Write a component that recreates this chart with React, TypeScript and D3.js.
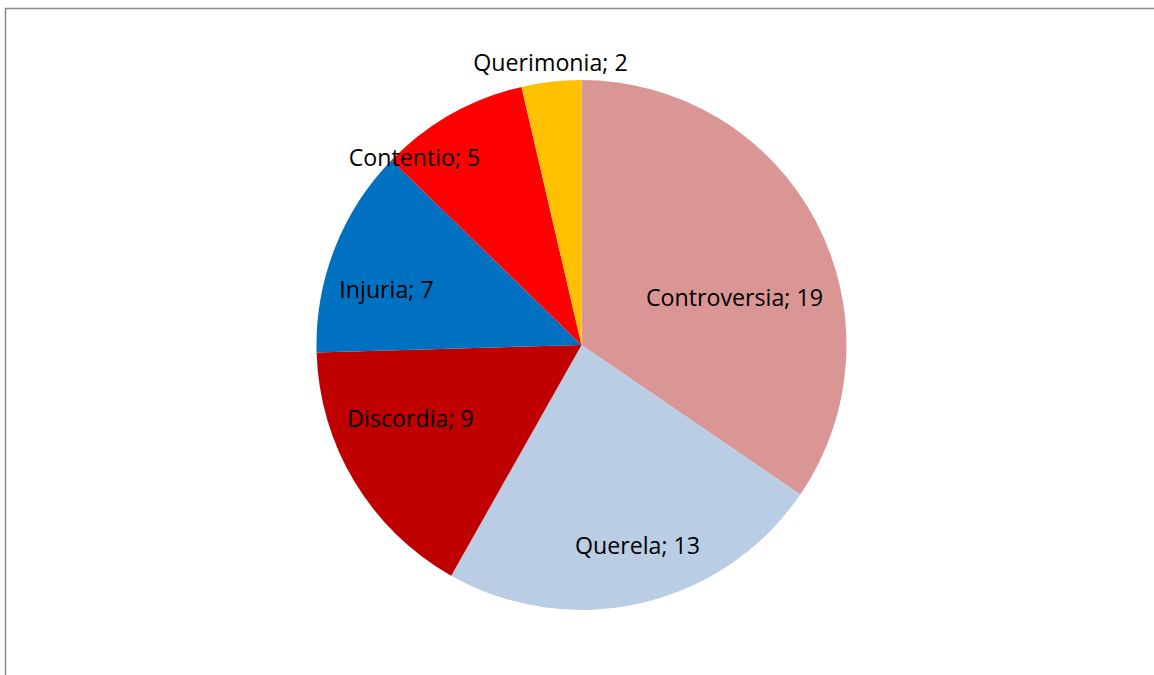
import React from "react";
import * as d3 from "d3";

const categories = ["Controversia", "Querela", "Discordia", "Injuria", "Contentio", "Querimonia"];
const values = [19, 13, 9, 7, 5, 2];
const colors = ["#D99694", "#B9CDE5", "#C00000", "#0070C0", "#FF0000", "#FFC000"];
// label offsets from pie center (Excel best-fit placement), in px
const labelOffsets: [number, number][] = [
  [153, -48],
  [56, 200],
  [-171, 73],
  [-195, -56],
  [-167, -188],
  [-31, -283],
];

export default function App() {
  const W = 1154, H = 675;
  const cx = 581.5, cy = 345, r = 265;
  const pie = d3.pie<number>().sort(null).value((d) => d)(values);
  const arc = d3.arc<d3.PieArcDatum<number>>().innerRadius(0).outerRadius(r);
  return (
    <svg width={W} height={H} style={{ position: "absolute", left: 0, top: 0 }}>
      <rect x={0} y={0} width={W} height={H} fill="#fff" />
      <rect x={5.5} y={8.5} width={W + 10} height={H + 10} fill="none" stroke="#898989" strokeWidth={1.5} />
      <g transform={`translate(${cx},${cy})`}>
        {pie.map((p, i) => (
          <path key={i} d={arc(p) || ""} fill={colors[i]} />
        ))}
        {pie.map((p, i) => (
          <text
            key={"t" + i}
            x={labelOffsets[i][0]}
            y={labelOffsets[i][1]}
            textAnchor="middle"
            dominantBaseline="central"
            fontFamily="'Open Sans', sans-serif"
            fontSize={23.2}
            fill="#000"
          >
            {`${categories[i]}; ${values[i]}`}
          </text>
        ))}
      </g>
    </svg>
  );
}
